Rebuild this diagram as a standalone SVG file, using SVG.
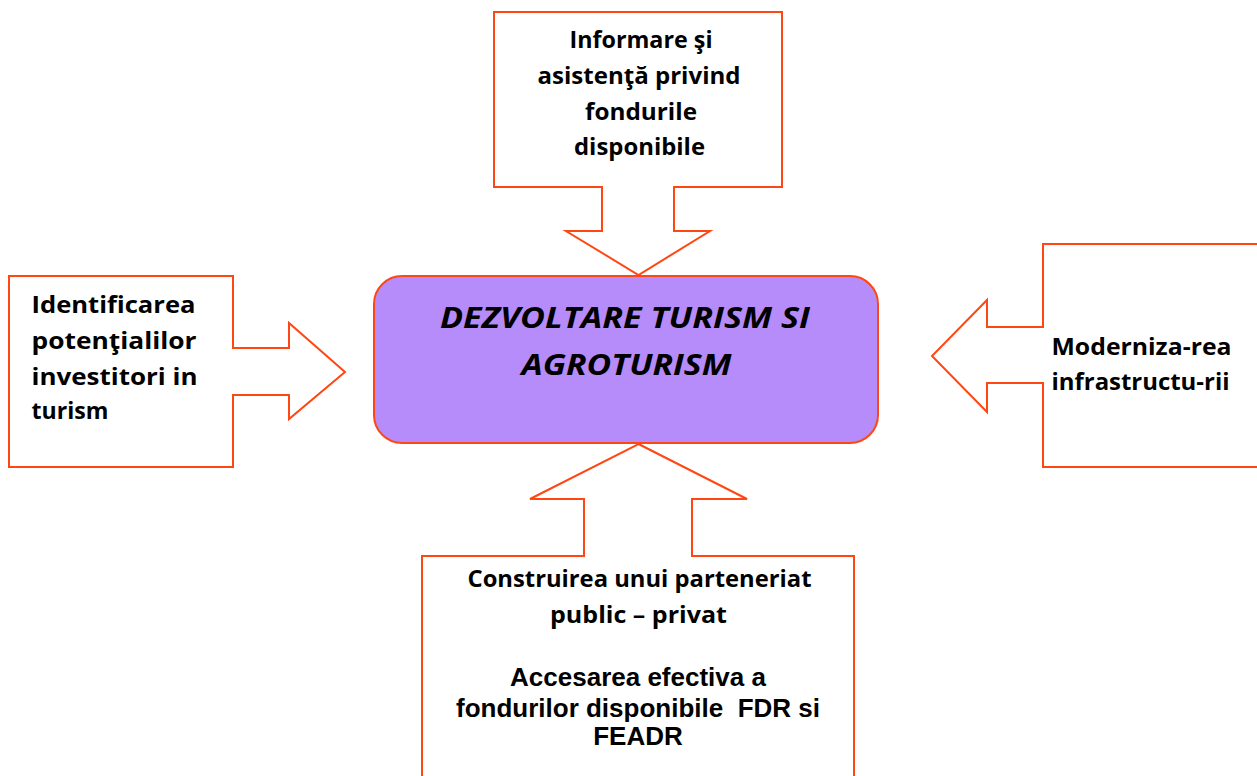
<svg xmlns="http://www.w3.org/2000/svg" width="1257" height="776" viewBox="0 0 1257 776">
<style>
.co{fill:#FFFFFF;stroke:#FF4713;stroke-width:2;stroke-linejoin:miter}
.t{font-family:"Open Sans","Liberation Sans",sans-serif;font-weight:bold;font-size:23px;fill:#000}
.c{text-anchor:middle}
.a{font-family:"Liberation Sans",Arial,sans-serif;font-weight:bold;font-size:26px;fill:#000;text-anchor:middle}
.m{font-family:"Open Sans","Liberation Sans",sans-serif;font-weight:bold;font-style:italic;font-size:28px;fill:#000;text-anchor:middle}
</style>
<rect width="1257" height="776" fill="#FFFFFF"/>
<g id="connectors"></g>
<g id="node-top">
<polygon class="co" points="494,12 782,12 782,187 674,187 674,231 710,231 638.5,275 566,231 602,231 602,187 494,187"/>
<text class="t c" x="641" y="48" textLength="143" lengthAdjust="spacingAndGlyphs">Informare şi</text>
<text class="t c" x="639" y="84" textLength="203" lengthAdjust="spacingAndGlyphs">asistenţă privind</text>
<text class="t c" x="641" y="120" textLength="112" lengthAdjust="spacingAndGlyphs">fondurile</text>
<text class="t c" x="639.5" y="155" textLength="131" lengthAdjust="spacingAndGlyphs">disponibile</text>
</g>
<g id="node-left">
<polygon class="co" points="9,276 233,276 233,348 289,348 289,323 345,372 289,419 289,395 233,395 233,467 9,467"/>
<text class="t" x="31.5" y="313" textLength="164" lengthAdjust="spacingAndGlyphs">Identificarea</text>
<text class="t" x="31.5" y="349" textLength="165" lengthAdjust="spacingAndGlyphs">potenţialilor</text>
<text class="t" x="31.5" y="385" textLength="166" lengthAdjust="spacingAndGlyphs">investitori in</text>
<text class="t" x="31.5" y="419" textLength="77" lengthAdjust="spacingAndGlyphs">turism</text>
</g>
<g id="node-right">
<polygon class="co" points="1262,244 1043,244 1043,327 987,327 987,300 932,356 987,412 987,383 1043,383 1043,467 1262,467"/>
<text class="t" x="1051.5" y="355" textLength="180" lengthAdjust="spacingAndGlyphs">Moderniza-rea</text>
<text class="t" x="1051.5" y="390" textLength="178" lengthAdjust="spacingAndGlyphs">infrastructu-rii</text>
</g>
<g id="node-bottom">
<polygon class="co" points="638.5,444 747,499 692,499 692,556 854,556 854,790 422,790 422,556 584,556 584,499 530,499"/>
<text class="t c" x="639.5" y="587" textLength="344" lengthAdjust="spacingAndGlyphs">Construirea unui parteneriat</text>
<text class="t c" x="638.5" y="623" textLength="177" lengthAdjust="spacingAndGlyphs">public – privat</text>
<text class="a" x="638" y="686">Accesarea efectiva a</text>
<text class="a" x="638" y="717" xml:space="preserve">fondurilor disponibile  FDR si</text>
<text class="a" x="638" y="745">FEADR</text>
</g>
<g id="node-center">
<rect x="374" y="276" width="504" height="167" rx="28" ry="28" fill="#B58CF9" stroke="#FF4713" stroke-width="2"/>
<text class="m" x="625" y="328" textLength="370" lengthAdjust="spacingAndGlyphs">DEZVOLTARE TURISM SI</text>
<text class="m" x="626.5" y="375" textLength="210" lengthAdjust="spacingAndGlyphs">AGROTURISM</text>
</g>
</svg>
